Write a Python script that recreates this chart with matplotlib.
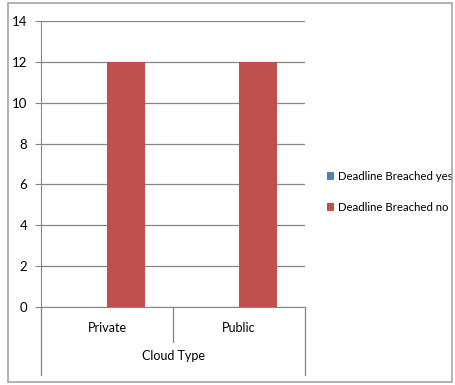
import numpy as np
import matplotlib.pyplot as plt
from matplotlib.patches import Rectangle

plt.rcParams['font.family'] = ['Lato', 'DejaVu Sans']

categories = ['Private', 'Public']
breached_yes = [0, 0]
breached_no = [12, 12]
axis_title = 'Cloud Type'

fig = plt.figure(figsize=(4.56, 3.85), dpi=100)
ax = fig.add_axes([0.0899, 0.2026, 0.579, 0.7429])

x = np.arange(len(categories))
w = 0.2857
ax.bar(x - w / 2, breached_yes, w, color='#4f81bd', label='Deadline Breached yes')
ax.bar(x + w / 2, breached_no, w, color='#c0504d', label='Deadline Breached no')

ax.set_xlim(-0.5, 1.5)
ax.set_ylim(0, 14)
ax.set_yticks(range(0, 15, 2))
ax.set_xticks([])
ax.grid(axis='y', color='#868686', linewidth=0.9)
ax.set_axisbelow(True)
for s in ['top', 'right']:
    ax.spines[s].set_visible(False)
ax.spines['left'].set_color('#868686')
ax.spines['bottom'].set_color('#868686')
ax.tick_params(axis='y', length=4, color='#868686', labelsize=9.5, pad=6)

# two-level category axis below the plot
tr = ax.get_xaxis_transform()
for xv, ybot in [(-0.5, -0.238), (0.5, -0.122), (1.5, -0.238)]:
    ax.plot([xv, xv], [0, ybot], transform=tr, color='#868686', lw=0.9, clip_on=False)
for xv, lab in zip(x, categories):
    ax.text(xv, -0.073, lab, transform=tr, ha='center', va='center', fontsize=9)
ax.text(0.5, -0.171, axis_title, transform=tr, ha='center', va='center', fontsize=9)

ax.legend(loc='center left', bbox_to_anchor=(1.085, 0.402), frameon=False,
          fontsize=8.2, handlelength=0.6, handleheight=0.6, handletextpad=0.3,
          labelspacing=1.75, borderaxespad=0, borderpad=0)

# chart border
fig.patches.append(Rectangle((8 / 456, 3 / 385), 444 / 456, 379 / 385,
                             transform=fig.transFigure, fill=False,
                             edgecolor='#a6a6a6', lw=1.2))

fig.savefig('out.png', dpi=100)
